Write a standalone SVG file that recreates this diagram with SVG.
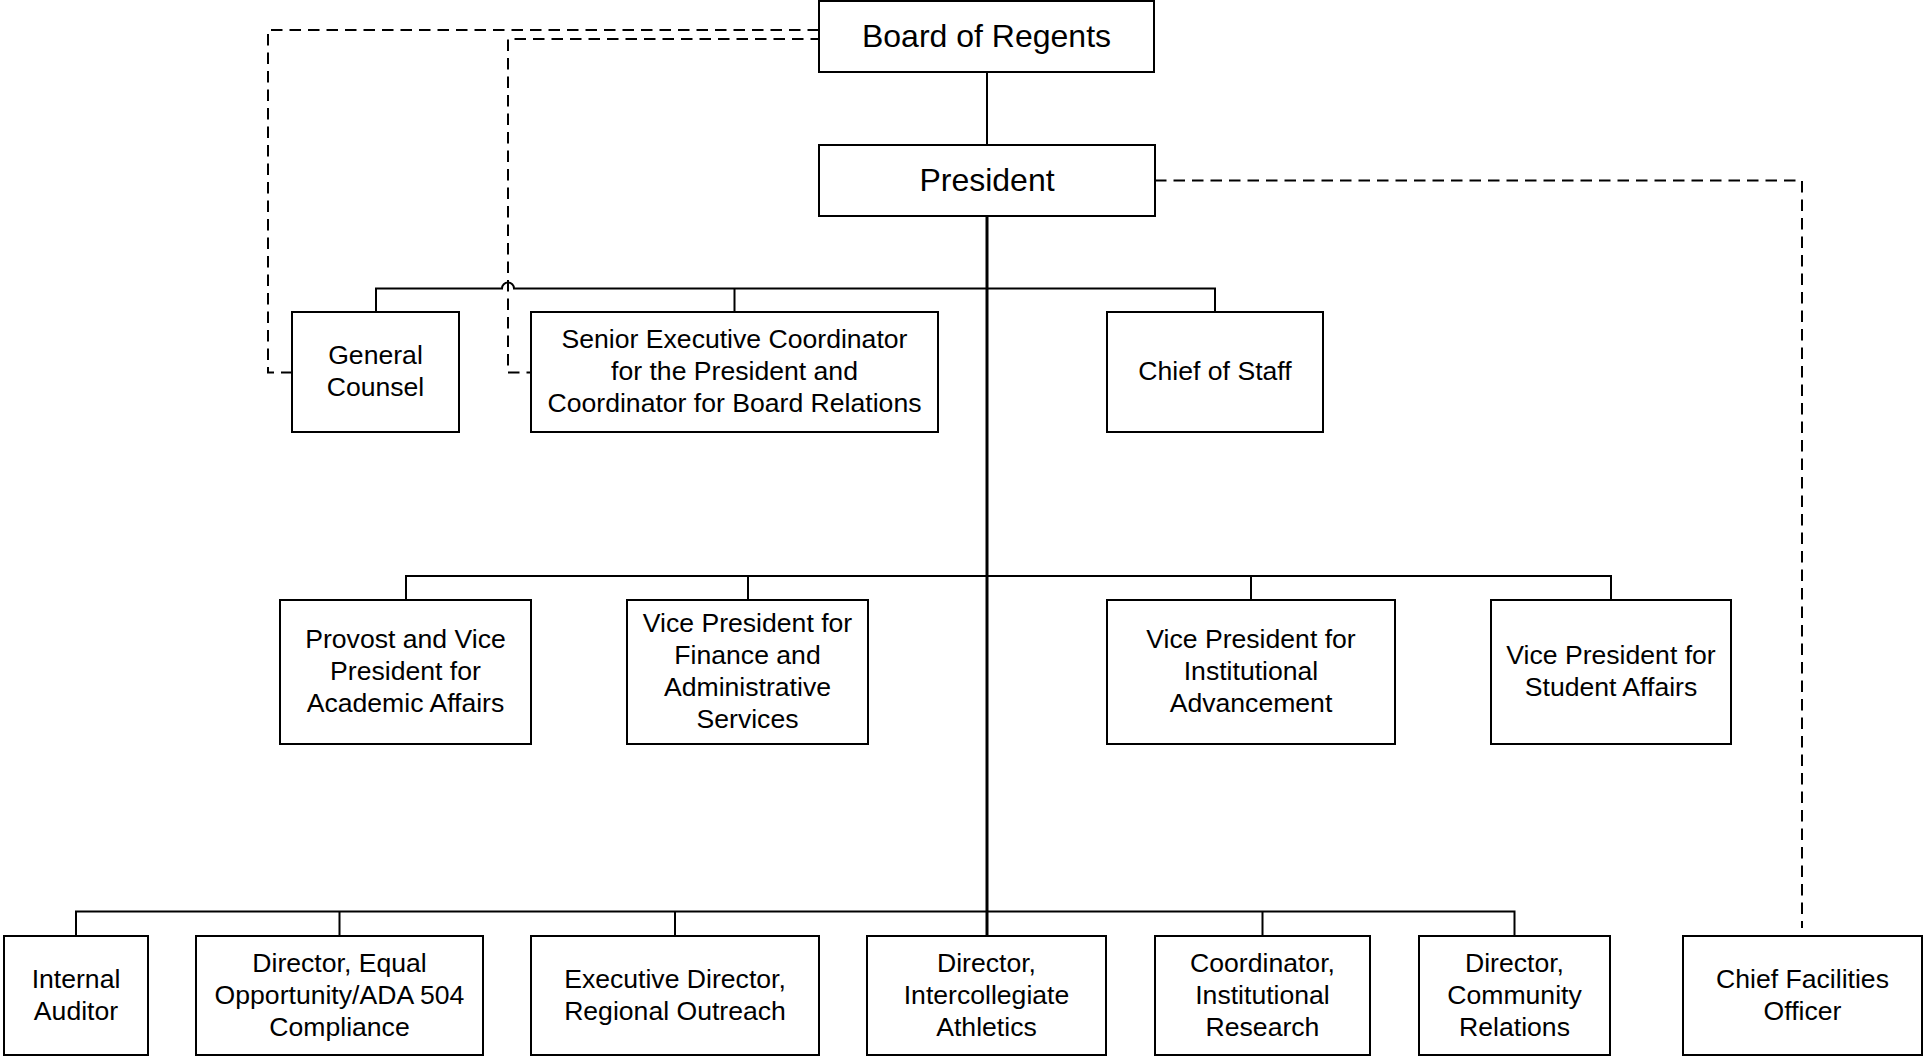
<svg xmlns="http://www.w3.org/2000/svg" width="1923" height="1056" viewBox="0 0 1923 1056">
<style>
.box{fill:#fff;stroke:#000;stroke-width:2}
.t{font-family:"Liberation Sans",Arial,sans-serif;font-size:26.6px;fill:#000;text-anchor:middle}
.big{font-size:32px}
.ln{fill:none;stroke:#000;stroke-width:2}
.trunk{fill:none;stroke:#000;stroke-width:3}
.dash{fill:none;stroke:#000;stroke-width:2;stroke-dasharray:11.5 7}
</style>
<rect width="1923" height="1056" fill="#fff"/>
<g id="connectors">
<path class="ln" d="M987 72V145"/>
<path class="trunk" d="M987 216V936"/>
<path class="ln" d="M376 312V288.5H502a6 6 0 0 1 12 0H1215V312M734.5 288.5V312"/>
<path class="ln" d="M406 600V576H1611V600M748 576V600M1251 576V600"/>
<path class="ln" d="M76 936V911.5H1514.5V936M339.5 911.5V936M675 911.5V936M1262.5 911.5V936"/>
<path class="dash" d="M819 30H268V372.5H292"/>
<path class="dash" d="M822 39H508V372.5H531"/>
<path class="dash" d="M1155 180.5H1802V928"/>
</g>
<g id="board"><rect class="box" x="819" y="1" width="335" height="71"/><text class="t big" x="986.5" y="47">Board of Regents</text></g>
<g id="president"><rect class="box" x="819" y="145" width="336" height="71"/><text class="t big" x="987" y="191">President</text></g>
<g id="general-counsel"><rect class="box" x="292" y="312" width="167" height="120"/><text class="t" x="375.5" y="364">General</text><text class="t" x="375.5" y="396">Counsel</text></g>
<g id="senior-exec"><rect class="box" x="531" y="312" width="407" height="120"/><text class="t" x="734.5" y="348">Senior Executive Coordinator</text><text class="t" x="734.5" y="380">for the President and</text><text class="t" x="734.5" y="412">Coordinator for Board Relations</text></g>
<g id="chief-of-staff"><rect class="box" x="1107" y="312" width="216" height="120"/><text class="t" x="1215" y="380">Chief of Staff</text></g>
<g id="provost"><rect class="box" x="280" y="600" width="251" height="144"/><text class="t" x="405.5" y="648">Provost and Vice</text><text class="t" x="405.5" y="680">President for</text><text class="t" x="405.5" y="712">Academic Affairs</text></g>
<g id="vp-finance"><rect class="box" x="627" y="600" width="241" height="144"/><text class="t" x="747.5" y="632">Vice President for</text><text class="t" x="747.5" y="664">Finance and</text><text class="t" x="747.5" y="696">Administrative</text><text class="t" x="747.5" y="728">Services</text></g>
<g id="vp-advancement"><rect class="box" x="1107" y="600" width="288" height="144"/><text class="t" x="1251" y="648">Vice President for</text><text class="t" x="1251" y="680">Institutional</text><text class="t" x="1251" y="712">Advancement</text></g>
<g id="vp-student"><rect class="box" x="1491" y="600" width="240" height="144"/><text class="t" x="1611" y="664">Vice President for</text><text class="t" x="1611" y="696">Student Affairs</text></g>
<g id="internal-auditor"><rect class="box" x="4" y="936" width="144" height="119"/><text class="t" x="76" y="987.5">Internal</text><text class="t" x="76" y="1019.5">Auditor</text></g>
<g id="director-eo"><rect class="box" x="196" y="936" width="287" height="119"/><text class="t" x="339.5" y="971.5">Director, Equal</text><text class="t" x="339.5" y="1003.5">Opportunity/ADA 504</text><text class="t" x="339.5" y="1035.5">Compliance</text></g>
<g id="exec-regional"><rect class="box" x="531" y="936" width="288" height="119"/><text class="t" x="675" y="987.5">Executive Director,</text><text class="t" x="675" y="1019.5">Regional Outreach</text></g>
<g id="director-athletics"><rect class="box" x="867" y="936" width="239" height="119"/><text class="t" x="986.5" y="971.5">Director,</text><text class="t" x="986.5" y="1003.5">Intercollegiate</text><text class="t" x="986.5" y="1035.5">Athletics</text></g>
<g id="coord-research"><rect class="box" x="1155" y="936" width="215" height="119"/><text class="t" x="1262.5" y="971.5">Coordinator,</text><text class="t" x="1262.5" y="1003.5">Institutional</text><text class="t" x="1262.5" y="1035.5">Research</text></g>
<g id="director-community"><rect class="box" x="1419" y="936" width="191" height="119"/><text class="t" x="1514.5" y="971.5">Director,</text><text class="t" x="1514.5" y="1003.5">Community</text><text class="t" x="1514.5" y="1035.5">Relations</text></g>
<g id="chief-facilities"><rect class="box" x="1683" y="936" width="239" height="119"/><text class="t" x="1802.5" y="987.5">Chief Facilities</text><text class="t" x="1802.5" y="1019.5">Officer</text></g>
</svg>
